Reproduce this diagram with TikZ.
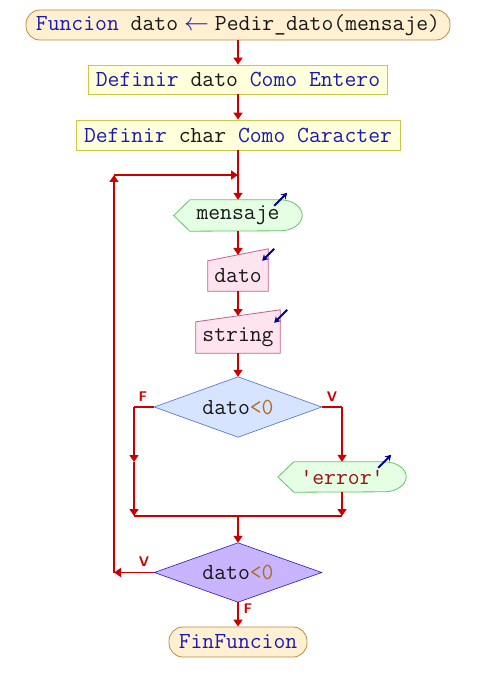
\documentclass[tikz,border=0pt]{standalone}
\usetikzlibrary{arrows.meta,calc}
\pgfdeclarelayer{bg}
\pgfsetlayers{bg,main}
\definecolor{arrred}{HTML}{CC0000}
\definecolor{kw}{HTML}{1A1AB0}
\definecolor{txt}{HTML}{181818}
\definecolor{termfill}{HTML}{FFF0D2}
\definecolor{termdraw}{HTML}{C08A3C}
\definecolor{boxfill}{HTML}{FFFFDC}
\definecolor{boxdraw}{HTML}{C8C84A}
\definecolor{outfill}{HTML}{E4FFE4}
\definecolor{outdraw}{HTML}{66C466}
\definecolor{infill}{HTML}{FFE4F0}
\definecolor{indraw}{HTML}{C06090}
\definecolor{d1fill}{HTML}{D6E4FF}
\definecolor{d1draw}{HTML}{4A6CD0}
\definecolor{d2fill}{HTML}{C8B4FF}
\definecolor{d2draw}{HTML}{2A1AB0}
\definecolor{strcol}{HTML}{A01010}
\definecolor{numcol}{HTML}{B07018}
\definecolor{barrcol}{HTML}{00008C}
\begin{document}
\begin{tikzpicture}[x=1pt,y=-1pt,
  every node/.style={font=\ttfamily\fontsize{23}{25}\selectfont, text=txt, inner sep=0pt},
  term/.style={draw=termdraw, fill=termfill, rounded corners=14pt, line width=0.8pt},
  defbox/.style={draw=boxdraw, fill=boxfill, line width=0.8pt},
  arr/.style={draw=arrred, line width=1.6pt, -{Triangle[length=7pt,width=9pt]}},
  ln/.style={draw=arrred, line width=1.6pt},
  outshape/.style={draw=outdraw, fill=outfill, line width=0.8pt},
  inshape/.style={draw=indraw, fill=infill, line width=0.8pt},
  dec1/.style={draw=d1draw, fill=d1fill, line width=0.6pt},
  dec2/.style={draw=d2draw, fill=d2fill, line width=0.6pt},
  lbl/.style={font=\sffamily\bfseries\fontsize{14}{14}\selectfont, text=arrred},
  barr/.style={draw=barrcol, line width=1.8pt, -{Stealth[length=6pt,width=7pt]}}
]
\useasboundingbox (0,0) rectangle (476,692);

% nodes
\node[term, minimum width=424pt, minimum height=30pt] (start) at (238,25)
  {{\color{kw}Funcion} dato\hspace{6pt}{\color{kw}$\leftarrow$}\hspace{6pt}Pedir\_dato(mensaje)};
\node[defbox, minimum width=299pt, minimum height=29pt] (b1) at (238,79.5)
  {{\color{kw}Definir} dato {\color{kw}Como Entero}};
\node[defbox, minimum width=324pt, minimum height=30pt] (b2) at (238,135)
  {{\color{kw}Definir} char {\color{kw}Como Caracter}};
\node[minimum width=128pt, minimum height=31pt] (msg) at (238,215.5) {mensaje};
\node[minimum width=60pt, minimum height=30pt] (dato) at (238,276) {dato};
\node[minimum width=84pt, minimum height=31pt] (str) at (238,337.5) {string};
\node[minimum width=167pt, minimum height=60pt] (d1) at (238,407)
  {dato{\color{numcol}<0}};
\node[minimum width=128pt, minimum height=30pt] (err) at (342,477)
  {\color{strcol}\textquotesingle error\textquotesingle};
\node[minimum width=167pt, minimum height=59pt] (d2) at (238,572.5)
  {dato{\color{numcol}<0}};
\node[term, minimum width=138pt, minimum height=30pt] (fin) at (238,642)
  {\color{kw}FinFuncion};

\node[lbl] (lf1) at (143,397) {F};
\node[lbl] (lv1) at (332,397) {V};
\node[lbl] (lv2) at (144,562) {V};
\node[lbl] (lf2) at (248,609) {F};

% background shapes
\begin{pgfonlayer}{bg}
\fill[white] (0,0) rectangle (476,692);
\draw[outshape] (msg.west) -- ($(msg.north west)+(16,0)$) -- ($(msg.north east)+(-22,0)$)
  arc[start angle=90,end angle=-90,x radius=22pt,y radius=15.5pt]
  -- ($(msg.south west)+(16,0)$) -- cycle;
\draw[outshape] (err.west) -- ($(err.north west)+(16,0)$) -- ($(err.north east)+(-22,0)$)
  arc[start angle=90,end angle=-90,x radius=22pt,y radius=15pt]
  -- ($(err.south west)+(16,0)$) -- cycle;
\draw[inshape] (dato.south west) -- (dato.north west) -- ($(dato.north east)+(0,-12)$)
  -- (dato.south east) -- cycle;
\draw[inshape] (str.south west) -- (str.north west) -- ($(str.north east)+(0,-12)$)
  -- (str.south east) -- cycle;
\draw[dec1] (d1.west) -- (d1.north) -- (d1.east) -- (d1.south) -- cycle;
\draw[dec2] (d2.west) -- (d2.north) -- (d2.east) -- (d2.south) -- cycle;
\end{pgfonlayer}

% helper coordinates
\coordinate (join) at (238,175);
\coordinate (loopt) at (114,175);
\coordinate (loopc) at (114,572.5);
\coordinate (datotop) at (238,255);
\coordinate (strtop) at (238,316);
\coordinate (fL) at (134,407);
\coordinate (fM) at (134,462);
\coordinate (fB) at (134,516);
\coordinate (vR) at (342,407);
\coordinate (vB) at (342,516);
\coordinate (mB) at (238,516);

% connectors
\draw[arr] (start.south) -- (b1.north);
\draw[arr] (b1.south) -- (b2.north);
\draw[arr] (b2.south) -- (msg.north);
\draw[arr] (d2.west) -- (loopc);
\draw[arr] (loopc) -- (loopt);
\draw[arr] (loopt) -- (join);
\draw[arr] (msg.south) -- (datotop);
\draw[arr] (dato.south) -- (strtop);
\draw[arr] (str.south) -- (d1.north);
\draw[ln] (d1.west) -- (fL);
\draw[arr] (fL) -- (fM);
\draw[arr] (fM) -- (fB);
\draw[ln] (d1.east) -- (vR);
\draw[arr] (vR) -- (err.north);
\draw[arr] (err.south) -- (vB);
\draw[ln] (fB) -- (vB);
\draw[arr] (mB) -- (d2.north);
\draw[arr] (d2.south) -- (fin.north);

% small blue arrows
\draw[barr] ($(msg.north east)+(-28,6)$) -- ++(13,-13);
\draw[barr] ($(dato.north east)+(6,-12)$) -- ++(-12,12);
\draw[barr] ($(str.north east)+(7,-12)$) -- ++(-13,13);
\draw[barr] ($(err.north east)+(-28,6)$) -- ++(13,-13);
\end{tikzpicture}
\end{document}
